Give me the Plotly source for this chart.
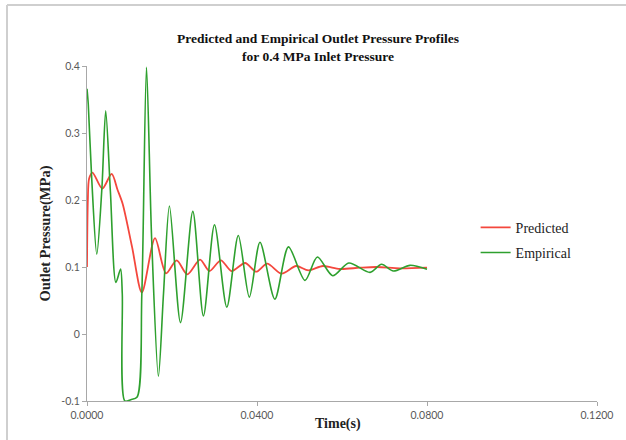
import plotly.graph_objects as go

# Empirical (green) outlet pressure, MPa, vs time (s)
emp_t = [0.0, 0.0003, 0.0011, 0.0023, 0.0035, 0.0044, 0.0055, 0.0068, 0.0079, 0.0083,
         0.0089, 0.0103, 0.0118, 0.0129, 0.0140, 0.0152, 0.0168, 0.0180, 0.0194, 0.0220,
         0.0249, 0.0274, 0.0300, 0.0329, 0.0356, 0.0382, 0.0407, 0.0442, 0.0474, 0.0513,
         0.0542, 0.0578, 0.0616, 0.0666, 0.0693, 0.0721, 0.0760, 0.0800]
emp_p = [0.366, 0.343, 0.233, 0.119, 0.217, 0.333, 0.213, 0.077, 0.097, 0.060,
         -0.100, -0.098, -0.094, 0.060, 0.398, 0.144, -0.063, 0.060, 0.191, 0.017,
         0.183, 0.027, 0.163, 0.040, 0.147, 0.055, 0.137, 0.052, 0.130, 0.080,
         0.115, 0.087, 0.106, 0.092, 0.104, 0.094, 0.1025, 0.0965]

# Predicted (red) outlet pressure, MPa, vs time (s)
pred_t = [0.0, 0.0002, 0.0005, 0.0013, 0.0036, 0.0058, 0.0072, 0.0084, 0.0106, 0.0129,
          0.0160, 0.0186, 0.0211, 0.0236, 0.0266, 0.0288, 0.0315, 0.0340, 0.0372, 0.0398,
          0.0424, 0.0458, 0.0492, 0.0521, 0.0555, 0.0595, 0.0642, 0.0682, 0.0736, 0.0800]
pred_p = [0.100, 0.200, 0.232, 0.241, 0.217, 0.239, 0.215, 0.194, 0.130, 0.062,
          0.143, 0.0905, 0.110, 0.089, 0.111, 0.094, 0.110, 0.094, 0.106, 0.093,
          0.105, 0.090, 0.1015, 0.095, 0.1015, 0.097, 0.099, 0.100, 0.098, 0.099]

x_ticks = [0.0, 0.04, 0.08, 0.12]
x_tick_labels = ["0.0000", "0.0400", "0.0800", "0.1200"]
y_ticks = [-0.1, 0.0, 0.1, 0.2, 0.3, 0.4]
y_tick_labels = ["-0.1", "0", "0.1", "0.2", "0.3", "0.4"]

serif = "Liberation Serif"
tick_font = dict(family="Lato", size=10.5, color="#595959")

fig = go.Figure()
fig.add_trace(go.Scatter(x=pred_t, y=pred_p, mode="lines", name="Predicted", legendgroup="p",
                         line=dict(color="#f4473d", width=1.8, shape="spline", smoothing=0.8)))
fig.add_trace(go.Scatter(x=emp_t, y=emp_p, mode="lines", name="Empirical", legendgroup="e",
                         line=dict(color="#2ea02e", width=1.6, shape="spline", smoothing=0.8)))

fig.update_layout(
    width=626, height=440,
    margin=dict(l=87, r=29, t=66, b=39),
    paper_bgcolor="white", plot_bgcolor="white",
    title=dict(text="<b>Predicted and Empirical Outlet Pressure Profiles<br>for 0.4 MPa Inlet Pressure</b>",
               font=dict(family=serif, size=13.5, color="#111111"),
               x=0.508, xref="container", xanchor="center",
               y=1 - 43 / 440, yref="container", yanchor="top"),
    showlegend=True,
    legend=dict(x=0.762, y=0.565, xanchor="left", yanchor="top",
                font=dict(family=serif, size=14, color="#222222"),
                bgcolor="rgba(0,0,0,0)", tracegroupgap=4, itemwidth=30),
    xaxis=dict(range=[0, 0.12], tickvals=x_ticks, ticktext=x_tick_labels,
               showgrid=False, zeroline=False, showline=True, linecolor="#a8a8a8",
               linewidth=1, ticks="outside", ticklen=4, tickcolor="#a8a8a8",
               tickfont=tick_font),
    yaxis=dict(range=[-0.1, 0.4], tickvals=y_ticks, ticktext=y_tick_labels,
               showgrid=False, zeroline=False, showline=True, linecolor="#a8a8a8",
               linewidth=1, ticks="outside", ticklen=4, tickcolor="#a8a8a8",
               tickfont=tick_font),
    annotations=[
        dict(text="<b>Time(s)</b>", xref="paper", yref="paper",
             x=(338 - 87) / 510, y=-(424 - 401) / 335, xanchor="center", yanchor="middle",
             showarrow=False, font=dict(family=serif, size=14, color="#222222")),
        dict(text="<b>Outlet Pressure(MPa)</b>", xref="paper", yref="paper",
             x=-(87 - 45) / 510, y=0.5, xanchor="center", yanchor="middle",
             textangle=-90, showarrow=False,
             font=dict(family=serif, size=14.5, color="#222222")),
    ],
    shapes=[
        dict(type="line", xref="paper", yref="paper",
             x0=-(87 - 7) / 510, x1=1.2, y0=(401 - 5) / 335, y1=(401 - 5) / 335,
             line=dict(color="#cfcfcf", width=2)),
        dict(type="line", xref="paper", yref="paper",
             x0=-(87 - 7) / 510, x1=-(87 - 7) / 510, y0=(401 - 5) / 335, y1=-0.3,
             line=dict(color="#cfcfcf", width=2)),
    ],
)

fig.write_html("out.html", config={"displayModeBar": False},
               post_script="document.body.style.margin='0';")
